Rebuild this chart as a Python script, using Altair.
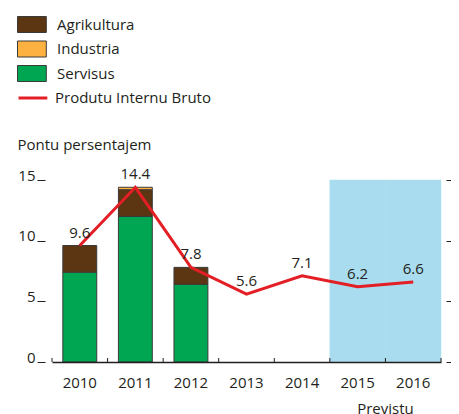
import altair as alt
import pandas as pd

# ---- data ----
years = ["2010", "2011", "2012", "2013", "2014", "2015", "2016"]
gdp = [9.6, 14.4, 7.8, 5.6, 7.1, 6.2, 6.6]
gdp_labels = ["9.6", "14.4", "7.8", "5.6", "7.1", "6.2", "6.6"]

bar_years = ["2010", "2011", "2012"]
servisus = [7.4, 12.0, 6.4]
agrikultura = [2.2, 2.2, 1.4]
industria = [0.0, 0.2, 0.0]

sectors = ["Agrikultura", "Industria", "Servisus"]
sector_colors = ["#5C3512", "#FDB140", "#00A651"]
stack_rank = {"Servisus": 0, "Agrikultura": 1, "Industria": 2}

forecast_years = ["2015", "2016"]
forecast_lo = [0, 0]
forecast_hi = [15, 15]

y_ticks = [0, 5, 10, 15]
line_name = "Produtu Internu Bruto"

# ---- tables ----
rows = []
for i, yr in enumerate(bar_years):
    for name, vals in (("Servisus", servisus), ("Agrikultura", agrikultura), ("Industria", industria)):
        if vals[i] > 0:
            rows.append({"year": yr, "sector": name, "value": vals[i], "rank": stack_rank[name]})
df_bars = pd.DataFrame(rows)
df_line = pd.DataFrame({"year": years, "gdp": gdp, "label": gdp_labels, "series": line_name})
df_shade = pd.DataFrame({"year": forecast_years, "lo": forecast_lo, "hi": forecast_hi})
df_years = pd.DataFrame({"year": years})
df_last = pd.DataFrame({"year": years[-1:]})

W, H = 389, 182
FONT = "Open Sans"
INK = "#231F20"

xscale = alt.Scale(domain=years, paddingInner=0, paddingOuter=0)
yscale = alt.Scale(domain=[0, 15], nice=False, zero=True)

x_axis = alt.Axis(
    orient="bottom", domain=True, domainColor=INK, domainWidth=1.3, ticks=False,
    labelAngle=0, labelFont=FONT, labelFontSize=15, labelColor=INK, labelPadding=13,
    title="Previstu", titleFont=FONT, titleFontSize=15, titleFontWeight="normal",
    titleColor=INK, titleX=333, titleY=51, titleAlign="center", titleBaseline="alphabetic",
)
y_left = alt.Axis(
    orient="left", values=y_ticks, domain=False, offset=7, tickSize=8, tickColor=INK,
    tickWidth=1, labelFont=FONT, labelFontSize=15, labelColor=INK, labelPadding=2,
    labelBaseline="alphabetic", grid=False,
    title="Pontu persentajem", titleFont=FONT, titleFontSize=15, titleFontWeight="normal",
    titleColor=INK, titleAngle=0, titleAlign="left", titleBaseline="alphabetic",
    titleX=-28, titleY=-31,
)
y_right = alt.Axis(
    orient="right", values=y_ticks, domain=False, offset=5, tickSize=5, tickColor=INK,
    tickWidth=1, labels=False, title=None, grid=False,
)

shade = alt.Chart(df_shade).mark_rect(color="#A8DCEE", stroke="#A8DCEE", strokeWidth=0.5).encode(
    x=alt.X("year:N", scale=xscale, axis=x_axis, sort=years),
    y=alt.Y("lo:Q", scale=yscale, axis=y_left),
    y2="hi:Q",
)

bars = alt.Chart(df_bars).mark_bar(width={"band": 0.61}, stroke="#3A3A3A", strokeWidth=1).encode(
    x=alt.X("year:N", scale=xscale, axis=x_axis, sort=years),
    y=alt.Y("value:Q", stack="zero", scale=yscale, axis=None),
    color=alt.Color(
        "sector:N",
        scale=alt.Scale(domain=sectors, range=sector_colors),
        legend=alt.Legend(
            orient="none", legendX=-35, legendY=-164, title=None, padding=0,
            symbolType="M-1,-1L2.6,-1L2.6,1L-1,1Z", symbolSize=256,
            symbolStrokeColor="#3A3A3A", symbolStrokeWidth=1, symbolOpacity=1,
            labelFont=FONT, labelFontSize=15, labelColor=INK, labelOffset=23, rowPadding=3.5,
        ),
    ),
    order=alt.Order("rank:Q"),
)

ticks_l = alt.Chart(df_years).mark_rule(color=INK, strokeWidth=1).encode(
    x=alt.X("year:N", scale=xscale, axis=x_axis, sort=years, bandPosition=0),
    y=alt.value(H),
    y2=alt.value(H - 4),
)
ticks_r = alt.Chart(df_last).mark_rule(color=INK, strokeWidth=1).encode(
    x=alt.X("year:N", scale=xscale, axis=x_axis, sort=years, bandPosition=1),
    y=alt.value(H),
    y2=alt.value(H - 4),
)

line = alt.Chart(df_line).mark_line(strokeWidth=3).encode(
    x=alt.X("year:N", scale=xscale, axis=x_axis, sort=years),
    y=alt.Y("gdp:Q", scale=yscale, axis=y_right),
    stroke=alt.Stroke(
        "series:N",
        scale=alt.Scale(domain=[line_name], range=["#E31E24"]),
        legend=alt.Legend(
            orient="none", legendX=-35, legendY=-91.5, title=None, padding=0,
            symbolType="M-1,0L2.6,0", symbolSize=256, symbolStrokeWidth=3,
            labelFont=FONT, labelFontSize=15, labelColor=INK, labelOffset=19,
        ),
    ),
)

labels = alt.Chart(df_line).mark_text(
    font=FONT, fontSize=15, color=INK, baseline="bottom", dy=-5
).encode(
    x=alt.X("year:N", scale=xscale, axis=x_axis, sort=years),
    y=alt.Y("gdp:Q", scale=yscale, axis=None),
    text="label:N",
)

chart = (
    alt.layer(shade, bars, ticks_l, ticks_r, line, labels)
    .resolve_axis(y="independent")
    .properties(
        width=W, height=H, autosize="none",
        padding={"left": 44, "top": 172, "right": 10, "bottom": 52},
        background="white",
    )
    .configure_view(stroke=None)
)

chart.save("out.html", embed_options={"renderer": "svg", "actions": False})
